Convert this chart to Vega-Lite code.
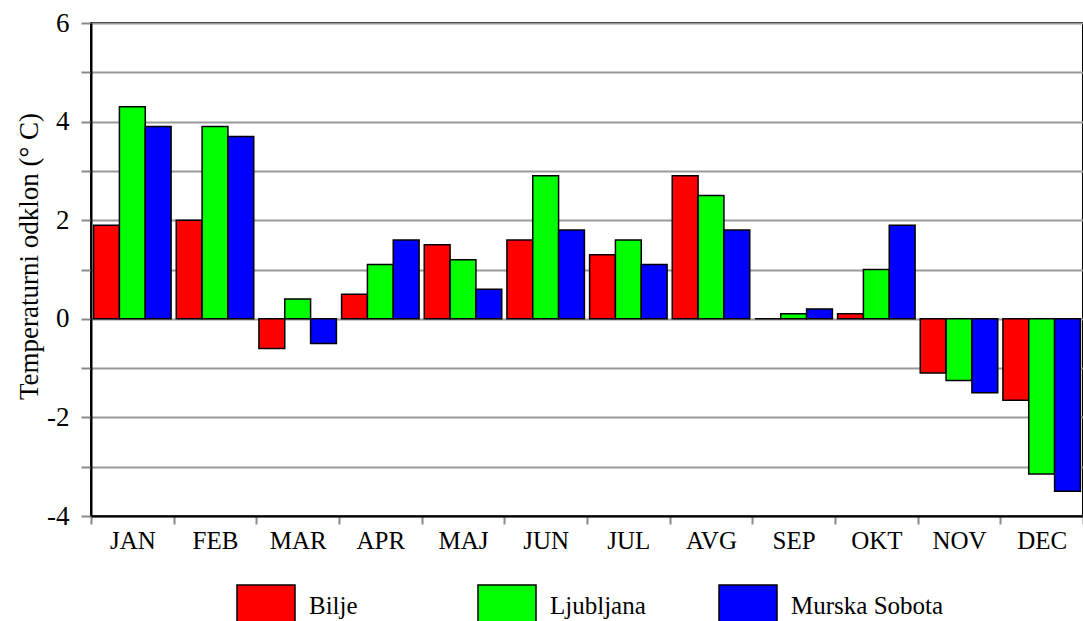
{
  "$schema": "https://vega.github.io/schema/vega-lite/v6.json",
  "autosize": "none",
  "width": 992,
  "height": 493,
  "padding": {"left": 91, "top": 23, "right": 0, "bottom": 105},
  "background": "white",
  "config": {
    "font": "Liberation Serif",
    "view": {"stroke": "black", "strokeWidth": 2},
    "axis": {"labelFont": "Liberation Serif", "titleFont": "Liberation Serif", "labelColor": "black", "titleColor": "black"},
    "legend": {"labelFont": "Liberation Serif"}
  },
  "data": {
    "values": [
      {"month": "JAN", "station": "Bilje", "value": 1.9},
      {"month": "JAN", "station": "Ljubljana", "value": 4.3},
      {"month": "JAN", "station": "Murska Sobota", "value": 3.9},
      {"month": "FEB", "station": "Bilje", "value": 2.0},
      {"month": "FEB", "station": "Ljubljana", "value": 3.9},
      {"month": "FEB", "station": "Murska Sobota", "value": 3.7},
      {"month": "MAR", "station": "Bilje", "value": -0.6},
      {"month": "MAR", "station": "Ljubljana", "value": 0.4},
      {"month": "MAR", "station": "Murska Sobota", "value": -0.5},
      {"month": "APR", "station": "Bilje", "value": 0.5},
      {"month": "APR", "station": "Ljubljana", "value": 1.1},
      {"month": "APR", "station": "Murska Sobota", "value": 1.6},
      {"month": "MAJ", "station": "Bilje", "value": 1.5},
      {"month": "MAJ", "station": "Ljubljana", "value": 1.2},
      {"month": "MAJ", "station": "Murska Sobota", "value": 0.6},
      {"month": "JUN", "station": "Bilje", "value": 1.6},
      {"month": "JUN", "station": "Ljubljana", "value": 2.9},
      {"month": "JUN", "station": "Murska Sobota", "value": 1.8},
      {"month": "JUL", "station": "Bilje", "value": 1.3},
      {"month": "JUL", "station": "Ljubljana", "value": 1.6},
      {"month": "JUL", "station": "Murska Sobota", "value": 1.1},
      {"month": "AVG", "station": "Bilje", "value": 2.9},
      {"month": "AVG", "station": "Ljubljana", "value": 2.5},
      {"month": "AVG", "station": "Murska Sobota", "value": 1.8},
      {"month": "SEP", "station": "Bilje", "value": 0.0},
      {"month": "SEP", "station": "Ljubljana", "value": 0.1},
      {"month": "SEP", "station": "Murska Sobota", "value": 0.2},
      {"month": "OKT", "station": "Bilje", "value": 0.1},
      {"month": "OKT", "station": "Ljubljana", "value": 1.0},
      {"month": "OKT", "station": "Murska Sobota", "value": 1.9},
      {"month": "NOV", "station": "Bilje", "value": -1.1},
      {"month": "NOV", "station": "Ljubljana", "value": -1.25},
      {"month": "NOV", "station": "Murska Sobota", "value": -1.5},
      {"month": "DEC", "station": "Bilje", "value": -1.65},
      {"month": "DEC", "station": "Ljubljana", "value": -3.15},
      {"month": "DEC", "station": "Murska Sobota", "value": -3.5}
    ]
  },
  "mark": {"type": "bar", "stroke": "black", "strokeWidth": 1.5},
  "encoding": {
    "x": {
      "field": "month",
      "type": "nominal",
      "sort": null,
      "scale": {"paddingInner": 0, "paddingOuter": 0},
      "axis": {
        "title": null,
        "labelAngle": 0,
        "labelFont": "Liberation Serif",
        "labelFontSize": 25,
        "labelPadding": 4,
        "tickBand": "extent",
        "tickColor": "#888888",
        "tickWidth": 2,
        "tickSize": 8,
        "domainColor": "black",
        "domainWidth": 2,
        "grid": false
      }
    },
    "xOffset": {
      "field": "station",
      "type": "nominal",
      "scale": {"paddingOuter": 0.1, "paddingInner": 0}
    },
    "y": {
      "field": "value",
      "type": "quantitative",
      "scale": {"domain": [-4, 6], "nice": false, "zero": false},
      "axis": {
        "title": "Temperaturni odklon (° C)",
        "titleFont": "Liberation Serif",
        "titleFontSize": 27,
        "titleFontWeight": "normal",
        "titleX": -48,
        "titleY": 233,
        "values": [-4, -3, -2, -1, 0, 1, 2, 3, 4, 5, 6],
        "labelExpr": "datum.value % 2 === 0 ? '' + datum.value : ''",
        "labelFont": "Liberation Serif",
        "labelFontSize": 27,
        "labelPadding": 12,
        "tickColor": "#888888",
        "tickWidth": 2,
        "tickSize": 10,
        "domainColor": "black",
        "domainWidth": 2,
        "grid": true,
        "gridColor": "#999999",
        "gridWidth": 2
      }
    },
    "color": {
      "field": "station",
      "type": "nominal",
      "scale": {"domain": ["Bilje", "Ljubljana", "Murska Sobota"], "range": ["#ff0000", "#00ff00", "#0000ff"]},
      "legend": {
        "title": null,
        "orient": "none",
        "legendX": 145,
        "legendY": 561,
        "direction": "horizontal",
        "columns": 3,
        "gridAlign": "all",
        "columnPadding": 13,
        "padding": 0,
        "symbolType": "square",
        "symbolSize": 3364,
        "symbolStrokeColor": "black",
        "symbolStrokeWidth": 1.5,
        "symbolOpacity": 1,
        "labelFont": "Liberation Serif",
        "labelFontSize": 25,
        "labelOffset": 13,
        "labelBaseline": "alphabetic",
        "labelColor": "black"
      }
    }
  }
}
